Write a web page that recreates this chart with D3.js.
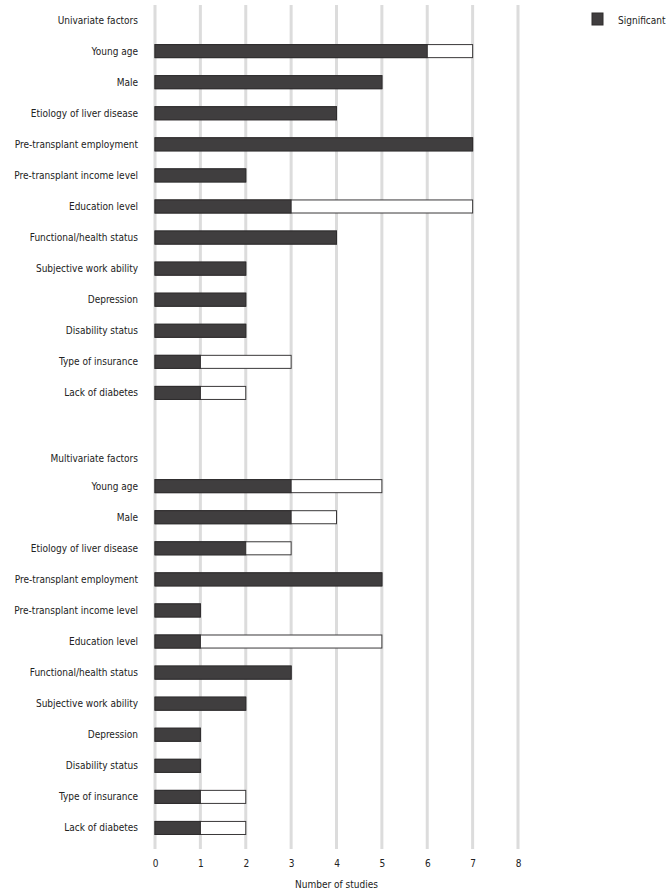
<!DOCTYPE html>
<html lang="en">
<head>
<meta charset="UTF-8">
<title>Number of studies</title>
<script src="https://d3js.org/d3.v7.min.js"></script>
<style>
  body { margin: 0; background: #fff; }
  text { font-family: "DejaVu Sans Condensed", "DejaVu Sans", sans-serif; fill: #222; }
</style>
</head>
<body>
<svg id="chart" width="672" height="893"></svg>
<script>
// 요인 이름 (두 그룹 공통)
const factors = [
    "Young age", "Male", "Etiology of liver disease", "Pre-transplant employment",
    "Pre-transplant income level", "Education level", "Functional/health status",
    "Subjective work ability", "Depression", "Disability status",
    "Type of insurance", "Lack of diabetes"
];

// 단변량: 유의한 연구 수 / 전체 연구 수
const uniSignificant = [6, 5, 4, 7, 2, 3, 4, 2, 2, 2, 1, 1];
const uniTotal       = [7, 5, 4, 7, 2, 7, 4, 2, 2, 2, 3, 2];

// 다변량
const multiSignificant = [3, 3, 2, 5, 1, 1, 3, 2, 1, 1, 1, 1];
const multiTotal       = [5, 4, 3, 5, 1, 5, 3, 2, 1, 1, 2, 2];

const xTicks = [0, 1, 2, 3, 4, 5, 6, 7, 8];

// 행 목록 만들기 (헤더 + 요인 + 빈 줄)
const rows = [];
rows.push({ key: "u-head", label: "Univariate factors", header: true });
factors.forEach((f, i) => rows.push({ key: "u" + i, label: f, sig: uniSignificant[i], total: uniTotal[i] }));
rows.push({ key: "gap", label: "", header: true });
rows.push({ key: "m-head", label: "Multivariate factors", header: true });
factors.forEach((f, i) => rows.push({ key: "m" + i, label: f, sig: multiSignificant[i], total: multiTotal[i] }));

const svg = d3.select("#chart");
const plotTop = 5, plotBottom = 849;

const x = d3.scaleLinear().domain([0, 8]).range([155, 518]);
const y = d3.scaleBand()
    .domain(rows.map(r => r.key))
    .range([4.5, 843.5])
    .paddingInner(0.58)
    .paddingOuter(0.29);

// 세로 격자선
svg.append("g")
    .selectAll("line")
    .data(xTicks)
    .enter()
    .append("line")
    .attr("x1", d => x(d))
    .attr("x2", d => x(d))
    .attr("y1", plotTop)
    .attr("y2", plotBottom)
    .style("stroke", "#dcdcdc")
    .style("stroke-width", 3);

const bars = rows.filter(r => !r.header);

// 전체 연구 수 (흰 막대)
svg.append("g")
    .selectAll("rect")
    .data(bars)
    .enter()
    .append("rect")
    .attr("x", x(0))
    .attr("y", d => y(d.key))
    .attr("width", d => x(d.total) - x(0))
    .attr("height", y.bandwidth())
    .style("fill", "#fff")
    .style("stroke", "#3a3839")
    .style("stroke-width", 1);

// 유의한 연구 수 (진한 막대)
svg.append("g")
    .selectAll("rect")
    .data(bars)
    .enter()
    .append("rect")
    .attr("x", x(0))
    .attr("y", d => y(d.key))
    .attr("width", d => x(d.sig) - x(0))
    .attr("height", y.bandwidth())
    .style("fill", "#403e3f")
    .style("stroke", "#2e2c2d")
    .style("stroke-width", 1);

// 행 레이블
svg.append("g")
    .selectAll("text")
    .data(rows)
    .enter()
    .append("text")
    .attr("x", 138)
    .attr("y", d => y(d.key) + y.bandwidth() / 2 + (d.key === "m-head" ? 3 : 0))
    .attr("dy", "0.35em")
    .attr("text-anchor", "end")
    .style("font-size", "10px")
    .text(d => d.label);

// x축 눈금 레이블
const axis = svg.append("g")
    .attr("transform", `translate(0,${plotBottom})`)
    .call(d3.axisBottom(x).tickValues(xTicks).tickSize(0).tickPadding(11).tickFormat(d3.format("d")));
axis.select(".domain").remove();
axis.selectAll("text")
    .style("font-family", "'DejaVu Sans Condensed', 'DejaVu Sans', sans-serif")
    .style("font-size", "10px")
    .style("fill", "#222");

// x축 제목
svg.append("text")
    .attr("x", x(4))
    .attr("y", 884)
    .attr("dy", "0.35em")
    .attr("text-anchor", "middle")
    .style("font-size", "10px")
    .text("Number of studies");

// 범례
const legend = svg.append("g");
legend.append("rect")
    .attr("x", 592)
    .attr("y", 13)
    .attr("width", 11)
    .attr("height", 12)
    .style("fill", "#403e3f")
    .style("stroke", "#2e2c2d");
legend.append("text")
    .attr("x", 618)
    .attr("y", 20)
    .attr("dy", "0.35em")
    .style("font-size", "10px")
    .text("Significant");
</script>
</body>
</html>
